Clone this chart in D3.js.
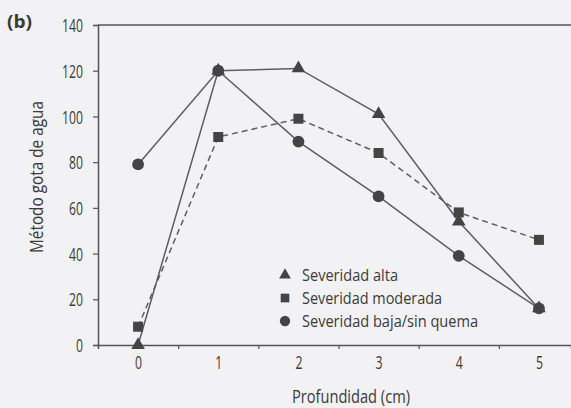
<!DOCTYPE html>
<html><head><meta charset="utf-8">
<script src="https://cdn.jsdelivr.net/npm/d3@7"></script>
<style>
html,body{margin:0;padding:0;background:#f2f2f4;}
svg{display:block;}
text{font-family:"Open Sans","Noto Sans",sans-serif;fill:#3a3a3a;}
</style></head>
<body>
<svg id="chart" width="571" height="408"></svg>
<script>
const depths = [0, 1, 2, 3, 4, 5];
const xTickLabels = ["0", "1", "2", "3", "4", "5"];
const yTicks = [0, 20, 40, 60, 80, 100, 120, 140];
const seriesNames = ["Severidad alta", "Severidad moderada", "Severidad baja/sin quema"];
const altaValues = [0, 120, 121, 101, 54, 16];
const moderadaValues = [8, 91, 99, 84, 58, 46];
const bajaValues = [79, 120, 89, 65, 39, 16];

(function () {
const series = [
  {name: seriesNames[0], values: altaValues, symbol: d3.symbolTriangle, dash: null, size: 80},
  {name: seriesNames[1], values: moderadaValues, symbol: d3.symbolSquare, dash: "6,4", size: 100},
  {name: seriesNames[2], values: bajaValues, symbol: d3.symbolCircle, dash: null, size: 110}
];

function condense(sel, factor) {
  sel.each(function () {
    const w = this.getComputedTextLength();
    d3.select(this).attr("textLength", w * factor).attr("lengthAdjust", "spacingAndGlyphs");
  });
}

const svg = d3.select("#chart");
const mLeft = 98, mRight = 571, mTop = 25, mBottom = 345;
const x = d3.scaleLinear().domain([-0.5, 5.4]).range([mLeft, mRight]);
const y = d3.scaleLinear().domain([0, 140]).range([mBottom, mTop]);

const axisColor = "#555";

svg.append("line").attr("x1", mLeft).attr("x2", mRight).attr("y1", mTop).attr("y2", mTop)
  .attr("stroke", axisColor).attr("stroke-width", 1.5);

const gy = svg.append("g").attr("transform", `translate(${mLeft},0)`)
  .call(d3.axisLeft(y).tickValues(yTicks).tickSize(5).tickPadding(10));
gy.select(".domain").attr("stroke", axisColor).attr("stroke-width", 1.5);
gy.selectAll(".tick line").attr("stroke", axisColor).attr("stroke-width", 1.2);
gy.selectAll(".tick text").attr("font-size", 18.5).attr("fill", "#3a3a3a")
  .attr("font-family", '"Open Sans",sans-serif').attr("dy", "0.36em");
condense(gy.selectAll(".tick text"), 0.66);

const gx = svg.append("g").attr("transform", `translate(0,${mBottom})`)
  .call(d3.axisBottom(x).tickValues([0.5, 1.5, 2.5, 3.5, 4.5]).tickSize(4).tickFormat(""));
gx.select(".domain").attr("stroke", axisColor).attr("stroke-width", 1.5);
gx.selectAll(".tick line").attr("stroke", axisColor).attr("stroke-width", 1.2);

const gxl = svg.append("g").attr("transform", `translate(0,${mBottom})`)
  .call(d3.axisBottom(x).tickValues(depths).tickSize(0).tickPadding(11)
    .tickFormat((d, i) => xTickLabels[i]));
gxl.select(".domain").remove();
gxl.selectAll(".tick text").attr("font-size", 18.5).attr("fill", "#3a3a3a")
  .attr("font-family", '"Open Sans",sans-serif');
condense(gxl.selectAll(".tick text"), 0.66);

const line = d3.line().x((d, i) => x(depths[i])).y(d => y(d));
series.forEach(s => {
  svg.append("path").datum(s.values).attr("d", line)
    .attr("fill", "none").attr("stroke", "#5e5e5e").attr("stroke-width", 1.5)
    .attr("stroke-dasharray", s.dash);
});
series.forEach(s => {
  svg.append("g").selectAll("path").data(s.values).join("path")
    .attr("d", d3.symbol().type(s.symbol).size(s.size))
    .attr("transform", (d, i) => `translate(${x(depths[i])},${y(d)})`)
    .attr("fill", "#444");
});

const legendWidths = [96, 140, 176];
const legend = svg.append("g").attr("transform", "translate(285,275)");
series.forEach((s, i) => {
  const g = legend.append("g").attr("transform", `translate(0,${i * 23})`);
  g.append("path").attr("d", d3.symbol().type(s.symbol).size(s.size * 0.75)).attr("fill", "#444");
  g.append("text").attr("x", 17).attr("y", 6).attr("font-size", 17)
    .attr("textLength", legendWidths[i]).attr("lengthAdjust", "spacingAndGlyphs").text(s.name);
});

svg.append("text").attr("x", 351).attr("y", 403).attr("text-anchor", "middle")
  .attr("font-size", 18).attr("textLength", 118).attr("lengthAdjust", "spacingAndGlyphs")
  .text("Profundidad (cm)");
svg.append("text").attr("transform", "translate(43,177) rotate(-90)").attr("text-anchor", "middle")
  .attr("font-size", 17.5).attr("textLength", 152).attr("lengthAdjust", "spacingAndGlyphs")
  .text("Método gota de agua");

svg.append("text").attr("x", 7).attr("y", 28).attr("font-size", 17).attr("font-weight", "bold")
  .attr("textLength", 25).attr("lengthAdjust", "spacingAndGlyphs").text("(b)");
})();
</script>
</body></html>
